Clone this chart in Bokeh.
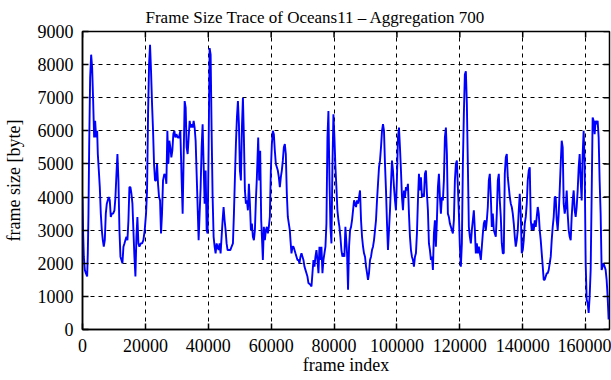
import math
from bokeh.plotting import figure
from bokeh.models import Range1d, FixedTicker, NumeralTickFormatter
from bokeh.embed import file_html
from bokeh.resources import INLINE

# frame index in thousands of frames, frame size in bytes
frame_k = [
    0, 0.21, 0.42, 0.74, 1.06, 1.48, 1.69, 1.9, 2.12, 2.43, 2.75, 3.07, 3.39, 3.7, 4.02, 4.34,
    4.66, 4.87, 5.19, 5.5, 5.82, 6.14, 6.46, 6.77, 7.09, 7.41, 7.73, 8.04, 8.36, 8.68, 9.0, 9.31,
    9.74, 10.16, 10.48, 10.8, 11.11, 11.43, 11.75, 12.07, 12.38, 12.7, 13.02, 13.34, 13.65, 13.97,
    14.29, 14.61, 14.92, 15.24, 15.56, 15.88, 16.19, 16.51, 16.83, 17.15, 17.46, 17.78, 18.1, 18.52,
    18.95, 19.37, 19.79, 20.21, 20.53, 20.85, 21.17, 21.48, 21.8, 22.12, 22.44, 22.75, 23.07, 23.39,
    23.71, 24.02, 24.34, 24.66, 24.97, 25.29, 25.61, 26.03, 26.46,
    26.67, 26.99, 27.3, 27.62, 27.94, 28.26, 28.57, 28.89, 29.21, 29.53, 29.84, 30.27, 30.69, 31.11,
    31.54, 31.85, 32.17, 32.49, 32.81, 33.12, 33.44, 33.76, 34.08, 34.39, 34.71, 35.03, 35.35, 35.66,
    35.98, 36.3, 36.62, 36.93, 37.25, 37.57, 37.89, 38.2, 38.52, 38.84, 39.16, 39.48, 39.79, 40.11,
    40.43, 40.75, 41.06, 41.38, 41.7, 42.02, 42.33, 42.65, 42.97, 43.29, 43.6, 43.92, 44.24, 44.56,
    44.87, 45.19, 45.51, 45.83, 46.14, 46.57, 47.0, 47.42, 47.84, 48.16, 48.48, 48.79, 49.11, 49.43,
    49.75, 50.06, 50.38, 50.7, 51.02, 51.33, 51.65, 51.97, 52.29, 52.6, 52.92, 53.24, 53.56, 53.87,
    54.19, 54.51, 54.83, 55.14, 55.46,
    55.88, 56.2, 56.51, 56.83, 57.15, 57.36, 57.68, 58.0, 58.31, 58.63, 58.95, 59.27, 59.58, 59.9,
    60.22, 60.54, 60.85, 61.17, 61.49, 61.81, 62.12, 62.44, 62.76, 63.08, 63.39, 63.71, 64.03, 64.35,
    64.66, 64.98, 65.3, 65.62, 65.93, 66.14, 66.46, 66.78, 67.1, 67.42, 67.73, 68.05, 68.37, 68.69,
    69.0, 69.32, 69.64, 69.96, 70.27, 70.59, 70.91, 71.23, 71.54, 71.86, 72.18, 72.5, 72.82, 73.13,
    73.45, 73.77, 74.09, 74.4, 74.72, 75.04, 75.36, 75.67, 75.99, 76.31, 76.63, 76.94, 77.26, 77.58,
    77.9, 78.21, 78.53, 78.85, 79.17, 79.48, 79.8, 80.12, 80.44, 80.75, 81.07, 81.39, 81.71, 82.02,
    82.34, 82.66, 82.98, 83.29, 83.61,
    84.14, 84.45, 84.77, 85.09, 85.41, 85.72, 86.04, 86.36, 86.68, 86.99, 87.31, 87.63, 87.95, 88.26,
    88.58, 88.9, 89.22, 89.53, 89.85, 90.17, 90.49, 90.8, 91.12, 91.44, 91.76, 92.07, 92.39, 92.71,
    93.03, 93.34, 93.66, 93.98, 94.3, 94.61, 94.93, 95.25, 95.57, 95.88, 96.2, 96.52, 96.84, 97.15,
    97.47, 97.79, 98.11, 98.42, 98.74, 99.06, 99.38, 99.69, 100.01, 100.33, 100.65, 100.96, 101.28,
    101.6, 101.92, 102.23, 102.55, 102.87, 103.19, 103.5, 103.82, 104.14, 104.46, 104.77, 105.09,
    105.41, 105.73, 106.04, 106.36, 106.68, 107.0, 107.31, 107.63, 107.95, 108.27, 108.58, 108.9,
    109.22, 109.54, 109.85, 110.17, 110.49, 110.81, 111.12, 111.44, 111.76, 112.08,
    112.39, 112.71, 113.03, 113.35, 113.66, 113.98, 114.3, 114.62, 114.93, 115.25, 115.57, 115.89,
    116.2, 116.52, 116.84, 117.16, 117.47, 117.79, 118.11, 118.43, 118.74, 119.06, 119.38, 119.7,
    120.01, 120.33, 120.65, 120.97, 121.28, 121.6, 121.92, 122.24, 122.55, 122.87, 123.19, 123.51,
    123.82, 124.14, 124.46, 124.78, 125.09, 125.41, 125.73, 126.05, 126.36, 126.68, 127.0, 127.32,
    127.63, 127.95, 128.27, 128.59, 128.9, 129.22, 129.54, 129.86, 130.17, 130.49, 130.81, 131.13,
    131.44, 131.76, 132.08, 132.4, 132.71, 133.03, 133.35, 133.67, 133.98, 134.3, 134.62, 134.94,
    135.25, 135.57, 135.89, 136.21, 136.52, 136.84, 137.16, 137.48, 137.79, 138.11, 138.43, 138.75,
    139.06, 139.38, 139.7, 140.02, 140.33, 140.65, 140.97, 141.29, 141.6, 141.92, 142.24,
    142.56, 142.87, 143.19, 143.51, 143.83, 144.14, 144.46, 144.78, 145.1, 145.41, 145.73, 146.05,
    146.37, 146.68, 147.0, 147.32, 147.64, 147.95, 148.27, 148.59, 148.91, 149.22, 149.54, 149.86,
    150.18, 150.49, 150.81, 151.13, 151.45, 151.76, 152.08, 152.4, 152.72, 153.03, 153.35, 153.67,
    153.99, 154.3, 154.62, 154.94, 155.26, 155.57, 155.89, 156.21, 156.53, 156.84, 157.16, 157.48,
    157.8, 158.11, 158.43, 158.75, 159.07, 159.38, 159.7, 160.02, 160.34, 160.65, 160.97, 161.29,
    161.61, 161.92, 162.24, 162.56, 162.88, 163.19, 163.51, 163.83, 164.15, 164.46, 164.78, 165.1,
    165.42, 165.73, 166.05, 166.37, 166.69, 167.0, 167.32,
]

frame_size = [
    3980, 2900, 2200, 1800, 1700, 1600, 2300, 3500, 5500, 7600, 8300, 7900, 6900, 5800, 6300, 5800,
    6000, 5300, 4800, 4300, 3500, 3000, 2700, 2500, 2700, 3500, 3800, 3900, 4000, 3900, 3400, 3500,
    3500, 3600, 4000, 4700, 5300, 4500, 3000, 2200, 2100, 2000, 2500, 2600, 2700, 2800,
    2700, 3300, 4300, 4300, 4100, 3800, 3000, 2200, 1600, 2800, 3400, 2600, 2500, 2600,
    2600, 2700, 3000, 3500, 4200, 6500, 8000, 8600, 7800, 6800, 6000, 5000, 4500, 4500,
    5000, 4400, 4000, 3900, 2900, 3500, 4500, 4700, 4600,
    4400, 6000, 5000, 5700, 5500, 5200, 5400, 5900, 6000, 5800, 5900, 5800, 5800, 6000,
    4500, 3500, 5200, 6900, 6700, 5500, 5300, 5800, 6300, 6100, 6200, 6100, 6300, 6100,
    5700, 4700, 3700, 2700, 3500, 4300, 5500, 6200, 5000, 3800, 4800, 3000, 2900, 5500,
    8500, 8300, 6000, 4000, 2800, 2500, 2300, 2600, 2500, 2400, 2600, 2300, 2800, 3300,
    3700, 3300, 3000, 2600, 2400, 2400, 2400, 2500, 2600, 3500, 4600, 5600, 6400, 6900,
    6200, 4800, 4500, 6100, 7000, 5800, 4200, 3800, 3900, 3600, 4400, 3800, 3000, 3200,
    2800, 2700, 3000, 3900, 4600,
    5800, 4500, 5400, 3300, 2600, 2100, 3100, 2700, 3000, 3100, 2900, 3100, 3400, 4800,
    5600, 6000, 5900, 5400, 5000, 4900, 4800, 4600, 4300, 4600, 4800, 5100, 5500, 5600,
    5300, 4100, 3400, 3200, 3000, 2700, 2300, 2500, 2500, 2400, 2300, 2200, 2100, 2100,
    2000, 2200, 2300, 2200, 2100, 1900, 1800, 1700, 1600, 1400, 1380, 1350, 1300, 1700,
    2100, 1900, 2200, 2400, 2100, 1700, 2500, 2100, 2500, 1700, 2100, 2300, 2500, 3200,
    5800, 6600, 4600, 3100, 2600, 4900, 6500, 5800, 4900, 4300, 3600, 3300, 3100, 2800,
    2400, 2200, 2300, 2200, 3100,
    2300, 1200, 2500, 3000, 3100, 3300, 3600, 3900, 3800, 3700, 3900, 3800, 4000, 4200,
    3300, 2800, 2500, 2300, 2200, 1900, 1700, 1500, 1700, 2100, 2200, 2400, 2500, 2700,
    3000, 3300, 3900, 4400, 4900, 5100, 5500, 6000, 6200, 6000, 5000, 4200, 3200, 2400,
    3000, 3600, 4400, 5100, 4800, 4300, 3900, 3600, 4600, 5800, 6100, 5500, 4800,
    4000, 3600, 4200, 4000, 4300, 4200, 4400, 3500, 2800, 2400, 2200, 2100,
    1900, 2200, 2300, 2900, 3900, 4700, 4200, 4600, 4000, 4100, 4000, 4700,
    4800, 4100, 3600, 2600, 2400, 2100, 2200, 1800, 2900, 3300,
    2500, 3300, 4300, 4700, 4000, 3500, 4000, 3900, 4500, 5800, 6100, 5300,
    3500, 3400, 3200, 3100, 3000, 2900, 3300, 4500, 5000, 5100, 4300, 3500,
    2500, 1900, 2600, 5000, 6500, 7700, 7800, 6800, 5000, 3100, 2800, 2600,
    3000, 3300, 3600, 3000, 2300, 2600, 2300, 2500, 2300, 2100, 2500, 2900,
    3200, 3300, 3000, 3300, 3700, 4500, 4700, 4000, 3100, 3500, 3000, 2900,
    2800, 3500, 4500, 4700, 3900, 3400, 2600, 2300, 2300, 4700, 5200, 5300,
    4600, 4300, 4000, 3800, 3700, 3500, 3200, 2800, 2500, 2700, 3000, 3600,
    4100, 3500, 2300, 2400, 2700, 3200, 3400, 3800, 4500, 4800, 4900,
    3300, 3000, 3200, 3000, 3300, 3100, 3400, 3700, 3500, 3000, 2700, 2300,
    1900, 1500, 1500, 1600, 1700, 1700, 1800, 2000, 2200, 2700, 3100, 3400,
    4000, 4000, 3300, 3000, 3500, 4200, 5000, 5700, 5500, 3800, 3500, 3700,
    4200, 3500, 3000, 2800, 2700, 3400, 3900, 4200, 3600, 3400, 3700, 4200,
    4900, 5300, 4500, 3900, 5300, 6000, 5000, 2000, 900, 800, 500, 1000,
    1800, 4000, 6400, 6300, 5900, 6300, 6200, 6300, 5800, 4500, 3500, 1800,
    1900, 2000, 1900, 1800, 1500, 1000, 300,
]

x_ticks = [0, 20000, 40000, 60000, 80000, 100000, 120000, 140000, 160000]
y_ticks = [0, 1000, 2000, 3000, 4000, 5000, 6000, 7000, 8000, 9000]
x_max = 167600
y_max = 9000

frames = [k * 1000 for k in frame_k]

FONT = "Liberation Serif"

p = figure(
    width=611, height=380,
    output_backend="svg", toolbar_location=None,
    x_range=Range1d(0, x_max), y_range=Range1d(0, y_max),
    min_border_left=81, min_border_right=2, min_border_top=30, min_border_bottom=51,
    title="Frame Size Trace of Oceans11 \u2013 Aggregation 700",
)
p.background_fill_color = "white"
p.border_fill_color = "white"
p.outline_line_color = "black"
p.outline_line_width = 1.5

p.title.text_font = FONT
p.title.text_font_size = "17px"
p.title.text_font_style = "normal"
p.title.text_color = "black"
p.title.align = "left"
p.title.offset = 63
p.title.standoff = 10

for g in (p.xgrid[0], p.ygrid[0]):
    g.grid_line_color = "black"
    g.grid_line_dash = "4 4"
    g.grid_line_width = 1

p.line(frames, frame_size, line_color="#0000ff", line_width=1.9)

# inward tick marks on the top and right edges of the frame
p.ray(x=x_ticks, y=[y_max] * len(x_ticks), length=6, length_units="screen",
      angle=-math.pi / 2, line_color="black", line_width=1.5)
p.ray(x=[x_max] * len(y_ticks), y=y_ticks, length=6, length_units="screen",
      angle=math.pi, line_color="black", line_width=1.5)

p.xaxis.ticker = FixedTicker(ticks=x_ticks)
p.xaxis.formatter = NumeralTickFormatter(format="0")
p.yaxis.ticker = FixedTicker(ticks=y_ticks)
p.yaxis.formatter = NumeralTickFormatter(format="0")

for ax in p.axis:
    ax.major_tick_in = 6
    ax.major_tick_out = 0
    ax.minor_tick_line_color = None
    ax.axis_line_color = "black"
    ax.axis_line_width = 1.5
    ax.major_tick_line_color = "black"
    ax.major_tick_line_width = 1.5
    ax.major_label_text_font = FONT
    ax.major_label_text_font_size = "18px"
    ax.major_label_text_color = "black"
    ax.axis_label_text_font = FONT
    ax.axis_label_text_font_size = "18px"
    ax.axis_label_text_font_style = "normal"
    ax.axis_label_text_color = "black"

p.xaxis.axis_label = "frame index"
p.xaxis.major_label_standoff = 9
p.xaxis.axis_label_standoff = 0
p.yaxis.axis_label = "frame size [byte]"
p.yaxis.major_label_standoff = 9
p.yaxis.axis_label_standoff = 11

open("out.html", "w").write(file_html(p, INLINE))
